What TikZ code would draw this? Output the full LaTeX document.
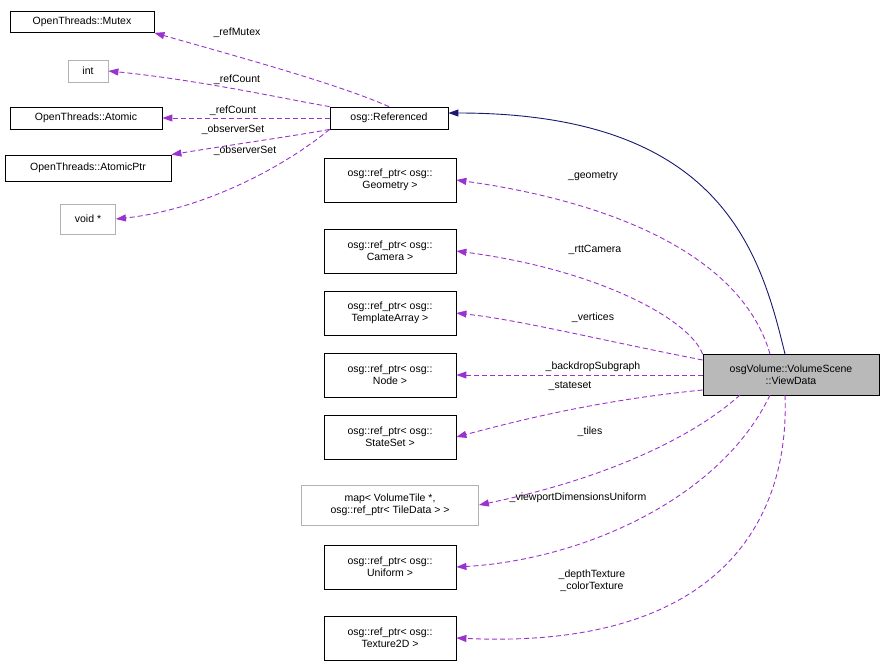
\documentclass[tikz,border=0pt]{standalone}
\usepackage{fontspec}
\setmainfont{Liberation Sans}
\usetikzlibrary{arrows.meta}
\definecolor{dep}{HTML}{9A32CD}
\definecolor{inh}{HTML}{191970}
\begin{document}
\begin{tikzpicture}[x=1pt,y=-1pt,line width=0.9pt,
  every node/.style={font=\fontsize{10.5}{12}\selectfont},
  box/.style={draw=black,line width=0.8pt,fill=white,inner sep=0pt,align=center},
  gbox/.style={draw=gray!60,line width=0.8pt,fill=white,inner sep=0pt,align=center},
  dep/.style={draw=dep,dash pattern=on 5pt off 3pt,-{Triangle[length=10pt,width=7pt,fill=dep]}},
  lab/.style={inner sep=0pt,align=center}]
\useasboundingbox (0,0) rectangle (884,662);
\node[box,minimum width=144,minimum height=21] (mutex) at (82,22) {OpenThreads::Mutex};
\node[gbox,minimum width=40,minimum height=22] (int) at (88,71) {int};
\node[box,minimum width=152,minimum height=22] (atomic) at (86,118) {OpenThreads::Atomic};
\node[box,minimum width=166,minimum height=26] (aptr) at (88,168) {OpenThreads::AtomicPtr};
\node[gbox,minimum width=55,minimum height=30] (void) at (88,219) {void *};
\node[box,minimum width=118,minimum height=22] (ref) at (389,118) {osg::Referenced};
\node[box,minimum width=132,minimum height=44] (geo) at (390,180) {osg::ref\_ptr< osg::\\Geometry >};
\node[box,minimum width=132,minimum height=44] (cam) at (390,251) {osg::ref\_ptr< osg::\\Camera >};
\node[box,minimum width=132,minimum height=44] (ta) at (390,313) {osg::ref\_ptr< osg::\\TemplateArray >};
\node[box,minimum width=132,minimum height=44] (node) at (390,375) {osg::ref\_ptr< osg::\\Node >};
\node[box,minimum width=132,minimum height=44] (ss) at (390,437) {osg::ref\_ptr< osg::\\StateSet >};
\node[gbox,minimum width=177,minimum height=40] (map) at (390,505) {map< VolumeTile *,\\ osg::ref\_ptr< TileData > >};
\node[box,minimum width=132,minimum height=44] (uni) at (390,567) {osg::ref\_ptr< osg::\\Uniform >};
\node[box,minimum width=132,minimum height=44] (tex) at (390,638) {osg::ref\_ptr< osg::\\Texture2D >};
\node[box,fill=gray!55,minimum width=176,minimum height=41] (vd) at (791,375) {osgVolume::VolumeScene\\::ViewData};

\draw[dep] (ref.north) .. controls (340,85) and (250,60) .. (mutex.south east);
\draw[dep] (ref.north west) .. controls (290,100) and (200,80) .. (int.east);
\draw[dep] (ref.west) -- (atomic.east);
\draw[dep] (ref.south west) .. controls (300,135) and (230,145) .. (aptr.north east);
\draw[dep] (ref.south west) .. controls (280,170) and (200,210) .. (void.east);
\node[lab] at (237,33) {\_refMutex};
\node[lab] at (237,80) {\_refCount};
\node[lab] at (233,111) {\_refCount};
\node[lab] at (233,130) {\_observerSet};
\node[lab] at (245,151) {\_observerSet};

\draw[inh,-{Triangle[length=10pt,width=7pt,fill=inh]}] (785,354) .. controls (760,250) and (720,113) .. (ref.east |- 0,113);

\draw[dep] (770,354) .. controls (740,250) and (600,200) .. (geo.east);
\draw[dep] (vd.north west) .. controls (690,320) and (600,270) .. (cam.east);
\draw[dep] (vd.west |- 0,360) .. controls (600,340) and (520,320) .. (ta.east);
\draw[dep] (vd.west) -- (node.east);
\draw[dep] (vd.west |- 0,390) .. controls (600,400) and (520,420) .. (ss.east);
\draw[dep] (740,395) .. controls (690,440) and (600,480) .. (map.east);
\draw[dep] (770,395) .. controls (720,500) and (580,560) .. (uni.east);
\draw[dep] (785,395) .. controls (790,520) and (720,650) .. (tex.east);
\node[lab] at (593,176) {\_geometry};
\node[lab] at (595,250) {\_rttCamera};
\node[lab] at (593,318) {\_vertices};
\node[lab] at (593,367) {\_backdropSubgraph};
\node[lab] at (570,386) {\_stateset};
\node[lab] at (590,432) {\_tiles};
\node[lab] at (578,498) {\_viewportDimensionsUniform};
\node[lab] at (592,581) {\_depthTexture\\\_colorTexture};
\end{tikzpicture}
\end{document}
